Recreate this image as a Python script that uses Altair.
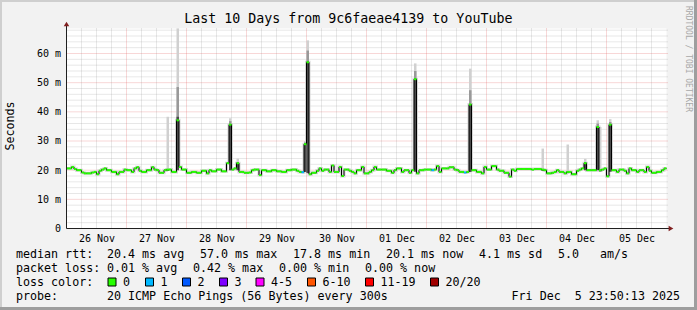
import json
import altair as alt
import pandas as pd

# ---------------- data ----------------
# hourly median RTT (ms), 240 steps from 26 Nov 00:00 to 06 Dec 00:00
median_ms = [
    20.6, 20.6, 21.1, 20.4, 20.0, 20.0, 19.2, 18.9, 18.9, 18.9,
    19.2, 19.4, 18.6, 19.8, 20.2, 20.6, 20.0, 20.0, 19.4, 19.4,
    18.6, 19.4, 19.4, 20.2, 20.0, 20.0, 19.4, 20.6, 21.0, 19.8,
    19.4, 19.4, 20.0, 20.0, 21.0, 20.2, 20.0, 19.1, 19.1, 20.0,
    20.2, 20.2, 19.4, 19.4, 37.1, 21.1, 20.2, 20.2, 19.1, 19.1,
    19.4, 19.4, 19.1, 19.1, 19.8, 19.8, 18.9, 20.0, 19.6, 19.6,
    20.2, 20.2, 19.6, 19.6, 22.4, 35.6, 20.2, 20.6, 22.4, 19.4,
    19.4, 19.1, 19.1, 19.2, 20.0, 20.2, 20.2, 18.3, 20.0, 20.0,
    19.6, 19.6, 20.0, 20.0, 19.6, 19.6, 19.4, 19.4, 20.0, 20.0,
    20.2, 20.2, 19.8, 19.4, 19.3, 28.9, 57.0, 18.6, 19.1, 19.1,
    19.8, 20.6, 19.8, 20.2, 20.2, 19.4, 21.6, 19.4, 19.4, 21.1,
    18.0, 20.2, 20.2, 19.8, 19.4, 18.9, 20.0, 20.0, 21.1, 18.9,
    18.9, 19.4, 20.0, 21.1, 20.2, 20.2, 20.2, 20.2, 19.8, 19.8,
    19.1, 20.0, 20.6, 20.6, 19.4, 20.0, 20.0, 19.1, 20.0, 51.2,
    18.9, 20.0, 20.0, 20.2, 20.2, 20.2, 20.0, 20.2, 21.4, 19.4,
    20.6, 20.6, 20.6, 21.0, 21.0, 20.2, 20.0, 19.4, 19.4, 19.2,
    19.4, 42.5, 20.0, 20.0, 19.4, 19.4, 18.9, 21.1, 20.2, 20.2,
    21.4, 21.4, 20.2, 19.8, 19.8, 19.1, 19.1, 17.8, 20.2, 19.8,
    20.4, 20.4, 20.4, 20.4, 20.4, 20.4, 20.2, 20.4, 20.4, 20.4,
    20.2, 20.0, 18.9, 18.9, 19.1, 19.4, 20.0, 19.4, 19.4, 18.9,
    19.4, 19.4, 18.6, 18.6, 19.8, 20.2, 20.6, 22.4, 20.0, 20.0,
    20.0, 20.0, 34.8, 20.0, 20.2, 20.6, 17.9, 35.6, 20.0, 20.0,
    19.4, 20.2, 20.2, 19.8, 18.9, 20.6, 20.0, 20.0, 19.4, 20.0,
    20.0, 19.4, 21.1, 19.8, 19.1, 19.1, 19.4, 19.4, 20.0, 20.6,
]
# steps with packet loss (all others had 0 lost pings)
loss_hours = [94, 146, 159]
loss_counts = ["1", "1", "1"]

# smoke (ping spread) at the visible spikes
spike_hours = [40, 44, 65, 68, 95, 96, 139, 161, 190, 200, 207, 212, 213, 217]
smoke_bottom = [19.8, 20.0, 20.0, 20.0, 19.4, 19.0, 19.5, 19.4, 19.8, 19.0, 20.0, 20.0, 19.6, 19.5]
smoke_light_top = [38.3, 68.6, 37.8, 24.0, 30.0, 64.5, 56.6, 54.8, 27.4, 28.8, 23.9, 37.1, 34.8, 37.5]
smoke_mid_top = [20.2, 48.5, 36.8, 22.8, 29.5, 61.0, 54.0, 47.4, 20.2, 19.4, 22.8, 36.0, 20.0, 36.5]
smoke_dark_top = [20.2, 38.3, 35.6, 22.4, 28.9, 57.0, 51.2, 42.5, 20.2, 19.4, 22.4, 34.8, 20.0, 35.6]

day_labels = ["26 Nov", "27 Nov", "28 Nov", "29 Nov", "30 Nov",
              "01 Dec", "02 Dec", "03 Dec", "04 Dec", "05 Dec"]
y_ticks = [0, 10, 20, 30, 40, 50, 60]
loss_names = ["0", "1", "2", "3", "4-5", "6-10", "11-19", "20/20"]
loss_colors = ["#26ff00", "#00b8ff", "#0059ff", "#7e00ff", "#ff00ff", "#ff5500", "#ff0000", "#a10000"]

title_text = "Last 10 Days from 9c6faeae4139 to YouTube"
rtt_items = ["median rtt:", "20.4 ms avg", "57.0 ms max", "17.8 ms min", "20.1 ms now", "4.1 ms sd", "5.0", "am/s"]
loss_items = ["packet loss:", "0.01 % avg", "0.42 % max", "0.00 % min", "0.00 % now"]
probe_items = ["probe:", "20 ICMP Echo Pings (56 Bytes) every 300s", "Fri Dec  5 23:50:13 2025"]

# ---------------- layout ----------------
W, H = 600, 200
PADL, PADT = 66.5, 28.5
PADR, PADB = 697 - W - PADL, 310 - H - PADT
YMAX = 68.57
NH = len(median_ms)
MONO = "DejaVu Sans Mono"
NBSP = "\u00a0"

xs = alt.Scale(domain=[0, NH], nice=False, zero=False)
ys = alt.Scale(domain=[0, YMAX], nice=False, zero=False)

noon_vals = [i * 24 + 12 for i in range(len(day_labels))]
AX = alt.Axis(values=noon_vals, labelExpr=json.dumps(day_labels) + "[round((datum.value-12)/24)]",
              grid=False, ticks=False, tickSize=0, domain=False, labelFont=MONO, labelFontSize=10,
              labelColor="#000", labelPadding=12.5, labelBaseline="alphabetic", labelAngle=0,
              labelFlush=False, labelOverlap=False, title=None)
AY = alt.Axis(values=y_ticks, labelExpr="datum.value == 0 ? '0' : datum.value + ' m'",
              grid=False, ticks=False, tickSize=0, domain=False, labelFont=MONO, labelFontSize=10,
              labelColor="#000", labelPadding=6, labelBaseline="middle", title=None)

lossmap = dict(zip(loss_hours, loss_counts))
df = pd.DataFrame({
    "h": list(range(NH)),
    "h2": list(range(1, NH + 1)),
    "v": median_ms,
    "lname": [lossmap.get(i, "0") for i in range(NH)],
})
step_df = pd.concat([df[["h", "v"]], pd.DataFrame({"h": [NH], "v": [median_ms[-1]]})], ignore_index=True)

smoke = pd.DataFrame({
    "h": spike_hours, "h2": [h + 1 for h in spike_hours], "lo": smoke_bottom,
    "light": smoke_light_top, "mid": smoke_mid_top, "dark": smoke_dark_top,
})

minor_y = [v for v in range(2, 69, 2) if v % 10]
major_y = [v for v in y_ticks if v > 0]
minor_x = [h for h in range(6, NH, 6) if h % 24]
major_x = [h for h in range(24, NH, 24)]

layers = []


def hgrid(vals, color, op):
    return alt.Chart(pd.DataFrame({"v": vals})).mark_rule(
        color=color, opacity=op, strokeDash=[1, 1], strokeWidth=1
    ).encode(y=alt.Y("v:Q", scale=ys, axis=AY), x=alt.value(0), x2=alt.value(W + 1))


def vgrid(vals, color, op):
    return alt.Chart(pd.DataFrame({"h": vals})).mark_rule(
        color=color, opacity=op, strokeDash=[1, 1], strokeWidth=1
    ).encode(x=alt.X("h:Q", scale=xs, axis=AX), y=alt.value(0), y2=alt.value(H))


layers += [hgrid(minor_y, "#8f8f8f", 0.42), vgrid(minor_x, "#8f8f8f", 0.42),
           hgrid(major_y, "#e05050", 0.45), vgrid(major_x, "#e05050", 0.45)]

# baseline smoke shadow
layers.append(alt.Chart(step_df).mark_line(interpolate="step-after", color="#d6d6d6", strokeWidth=3).encode(
    x=alt.X("h:Q", scale=xs, axis=AX), y=alt.Y("v:Q", scale=ys, axis=AY)))

for col, colr in [("light", "#d0d0d0"), ("mid", "#999999"), ("dark", "#4a4a4a")]:
    layers.append(alt.Chart(smoke).mark_rect(color=colr).encode(
        x=alt.X("h:Q", scale=xs, axis=AX), x2="h2:Q",
        y=alt.Y("lo:Q", scale=ys, axis=AY), y2=f"{col}:Q"))

# median step line
layers.append(alt.Chart(step_df).mark_line(interpolate="step-after", color="#000000", strokeWidth=1).encode(
    x=alt.X("h:Q", scale=xs, axis=AX), y=alt.Y("v:Q", scale=ys, axis=AY)))
# loss-coloured median segments
layers.append(alt.Chart(df).mark_rule(strokeWidth=2).encode(
    x=alt.X("h:Q", scale=xs, axis=AX), x2="h2:Q", y=alt.Y("v:Q", scale=ys, axis=AY),
    color=alt.Color("lname:N", scale=alt.Scale(domain=loss_names, range=loss_colors), legend=None)))

ONE = alt.Data(values=[{"a": 1}])
# axes lines and arrows
layers.append(alt.Chart(ONE).mark_rule(color="#1f1f1f", strokeWidth=1).encode(
    x=alt.value(0), y=alt.value(-3), y2=alt.value(H)))
layers.append(alt.Chart(ONE).mark_rule(color="#1f1f1f", strokeWidth=1).encode(
    x=alt.value(0), x2=alt.value(W + 4), y=alt.value(H)))
layers.append(alt.Chart(ONE).mark_point(shape="triangle-up", filled=True, size=30, color="#801f1f", opacity=1).encode(
    x=alt.value(0), y=alt.value(-4.5)))
layers.append(alt.Chart(ONE).mark_point(shape="triangle-right", filled=True, size=30, color="#801f1f", opacity=1).encode(
    x=alt.value(W + 4.5), y=alt.value(H)))


def txt(s, x, y, size=11.67, align="left", baseline="alphabetic", color="#000000", angle=0):
    return alt.Chart(alt.Data(values=[{"t": s.replace("  ", " " + NBSP)}])).mark_text(
        align=align, baseline=baseline, fontSize=size, font=MONO, color=color, angle=angle
    ).encode(text="t:N", x=alt.value(x - PADL), y=alt.value(y - PADT))


def box(x, y, color):
    return alt.Chart(ONE).mark_rect(fill=color, stroke="#000000", strokeWidth=1).encode(
        x=alt.value(x - PADL), x2=alt.value(x - PADL + 8), y=alt.value(y - PADT), y2=alt.value(y - PADT + 8))


layers.append(txt(title_text, 348.3, 23.3, size=13.3, align="center"))
layers.append(txt("Seconds", 10, 126, size=11.67, align="center", baseline="middle", angle=270))
layers.append(txt("RRDTOOL / TOBI OETIKER", 688, 59, size=8, align="center", baseline="middle",
                  color="#a8a8a8", angle=90))

rtt_x = [16, 107, 200, 293, 386, 479, 558, 600]
for s, x in zip(rtt_items, rtt_x):
    layers.append(txt(s, x, 258.3))
loss_x = [16, 107, 193, 279, 365]
for s, x in zip(loss_items, loss_x):
    layers.append(txt(s, x, 272.3))
layers.append(txt("loss color:", 16, 286.3))
box_x = [108, 145.5, 182.5, 219.5, 256, 307.5, 365.5, 430.5]
for name, colr, bx in zip(loss_names, loss_colors, box_x):
    layers.append(box(bx, 278, colr))
    layers.append(txt(name, bx + 15, 286.3))
layers.append(txt(probe_items[0], 16, 300.3))
layers.append(txt(probe_items[1], 107, 300.3))
layers.append(txt(probe_items[2], 680, 300.3, align="right"))


# 3D frame
def frame(x1, x2, y1, y2, color):
    return alt.Chart(ONE).mark_rect(color=color).encode(
        x=alt.value(x1 - PADL), x2=alt.value(x2 - PADL), y=alt.value(y1 - PADT), y2=alt.value(y2 - PADT))


layers += [frame(0, 697, 0, 2, "#cfcfcf"), frame(0, 2, 0, 310, "#cfcfcf"),
           frame(0, 697, 307, 310, "#9e9e9e"), frame(694, 697, 0, 310, "#9e9e9e")]

chart = alt.layer(*layers).properties(
    width=W, height=H,
    padding={"left": PADL, "top": PADT, "right": PADR, "bottom": PADB},
    autosize=alt.AutoSizeParams(type="none"),
).configure(background="#f2f2f2").configure_view(stroke=None, fill="#ffffff")

chart.save("out.html", embed_options={"renderer": "svg", "actions": False})
